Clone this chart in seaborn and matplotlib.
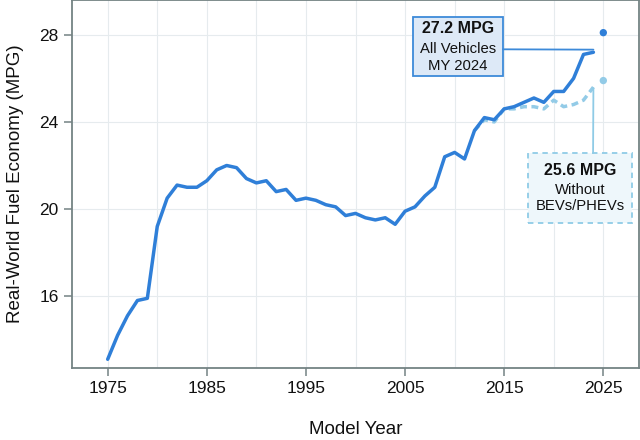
import matplotlib
matplotlib.use('Agg')
import matplotlib.pyplot as plt
from matplotlib.patches import FancyBboxPatch
from matplotlib.ticker import MultipleLocator
import seaborn as sns
import pandas as pd

# Real-world fuel economy, all vehicles, MY 1975-2024
years = list(range(1975, 2025))
mpg_all = [13.1, 14.2, 15.1, 15.8, 15.9, 19.2, 20.5, 21.1, 21.0, 21.0,
           21.3, 21.8, 22.0, 21.9, 21.4, 21.2, 21.3, 20.8, 20.9, 20.4,
           20.5, 20.4, 20.2, 20.1, 19.7, 19.8, 19.6, 19.5, 19.6, 19.3,
           19.9, 20.1, 20.6, 21.0, 22.4, 22.6, 22.3, 23.6, 24.2, 24.1,
           24.6, 24.7, 24.9, 25.1, 24.9, 25.4, 25.4, 26.0, 27.1, 27.2]

# Without BEVs/PHEVs (diverges from 2012 on)
years_ice = list(range(2012, 2025))
mpg_ice = [23.6, 24.1, 24.0, 24.6, 24.6, 24.7, 24.7, 24.6, 25.0, 24.7,
           24.8, 25.0, 25.6]

# preliminary MY 2025 points
proj_year = [2025]
proj_all = [28.1]
proj_ice = [25.9]

blue = '#2f7fd8'
light = '#93cbe7'
ink = '#111111'

sns.set_theme(style='white')
plt.rcParams['font.family'] = ['Liberation Sans', 'DejaVu Sans']

df_all = pd.DataFrame({'year': years, 'mpg': mpg_all})
df_ice = pd.DataFrame({'year': years_ice, 'mpg': mpg_ice})

fig = plt.figure(figsize=(6.4, 4.4), dpi=100)
ax = fig.add_axes([72 / 640, 1 - 368 / 440, 567 / 640, 368 / 440])

sns.lineplot(data=df_ice, x='year', y='mpg', ax=ax, color=light, lw=2.5,
             linestyle=(0, (2.0, 1.3)), zorder=2)
sns.lineplot(data=df_all, x='year', y='mpg', ax=ax, color=blue, lw=2.5, zorder=3)
sns.scatterplot(x=proj_year, y=proj_all, ax=ax, color=blue, s=28, edgecolor='none', zorder=4)
sns.scatterplot(x=proj_year, y=proj_ice, ax=ax, color=light, s=28, edgecolor='none', zorder=4)

ax.set_xlim(1971.4, 2028.6)
ax.set_ylim(12.7, 29.6)
ax.set_xticks([1975, 1985, 1995, 2005, 2015, 2025])
ax.xaxis.set_minor_locator(MultipleLocator(5))
ax.set_yticks([16, 20, 24, 28])
ax.grid(True, which='major', color='#e6ebee', lw=0.8, zorder=0)
ax.grid(True, which='minor', axis='x', color='#e6ebee', lw=0.8, zorder=0)
ax.tick_params(axis='both', which='major', labelsize=12.5, length=6, width=1.1,
               color='#748384', labelcolor=ink, direction='out', bottom=True, left=True)
ax.tick_params(axis='x', which='minor', length=0)
for sp in ax.spines.values():
    sp.set_color('#748384')
    sp.set_linewidth(1.3)

ax.set_xlabel('Model Year', fontsize=13.5, color=ink, labelpad=18)
ax.set_ylabel('Real-World Fuel Economy (MPG)', fontsize=13.5, color=ink, labelpad=11)

# annotation boxes (axes fraction coords)
box1 = FancyBboxPatch((0.601, 0.793), 0.159, 0.161, boxstyle='square,pad=0',
                      transform=ax.transAxes, facecolor='#dde9f7', edgecolor='#3d8ad9',
                      lw=1.3, zorder=5)
ax.add_patch(box1)
ax.text(0.6805, 0.923, '27.2 MPG', transform=ax.transAxes, ha='center', va='center',
        fontsize=11.5, fontweight='bold', color=ink, zorder=6)
ax.text(0.6805, 0.867, 'All Vehicles', transform=ax.transAxes, ha='center', va='center',
        fontsize=10.7, color=ink, zorder=6)
ax.text(0.6805, 0.822, 'MY 2024', transform=ax.transAxes, ha='center', va='center',
        fontsize=10.7, color=ink, zorder=6)

box2 = FancyBboxPatch((0.804, 0.394), 0.184, 0.190, boxstyle='square,pad=0',
                      transform=ax.transAxes, facecolor='#eef7fb', edgecolor='#8fcbe6',
                      lw=1.3, linestyle=(0, (3, 2.5)), zorder=5)
ax.add_patch(box2)
ax.text(0.896, 0.538, '25.6 MPG', transform=ax.transAxes, ha='center', va='center',
        fontsize=11.5, fontweight='bold', color=ink, zorder=6)
ax.text(0.896, 0.484, 'Without', transform=ax.transAxes, ha='center', va='center',
        fontsize=10.7, color=ink, zorder=6)
ax.text(0.896, 0.439, 'BEVs/PHEVs', transform=ax.transAxes, ha='center', va='center',
        fontsize=10.7, color=ink, zorder=6)

# connectors
ax.annotate('', xy=(years[-1], mpg_all[-1] + 0.12), xycoords='data',
            xytext=(0.760, 0.866), textcoords='axes fraction',
            arrowprops=dict(arrowstyle='-', color='#3d8ad9', lw=1.3,
                            shrinkA=0, shrinkB=0), zorder=5)
ax.annotate('', xy=(years_ice[-1], mpg_ice[-1] - 0.05), xycoords='data',
            xytext=(0.919, 0.584), textcoords='axes fraction',
            arrowprops=dict(arrowstyle='-', color='#8fcbe6', lw=1.3,
                            shrinkA=0, shrinkB=0), zorder=5)

fig.savefig('out.png', dpi=100, facecolor='white')
